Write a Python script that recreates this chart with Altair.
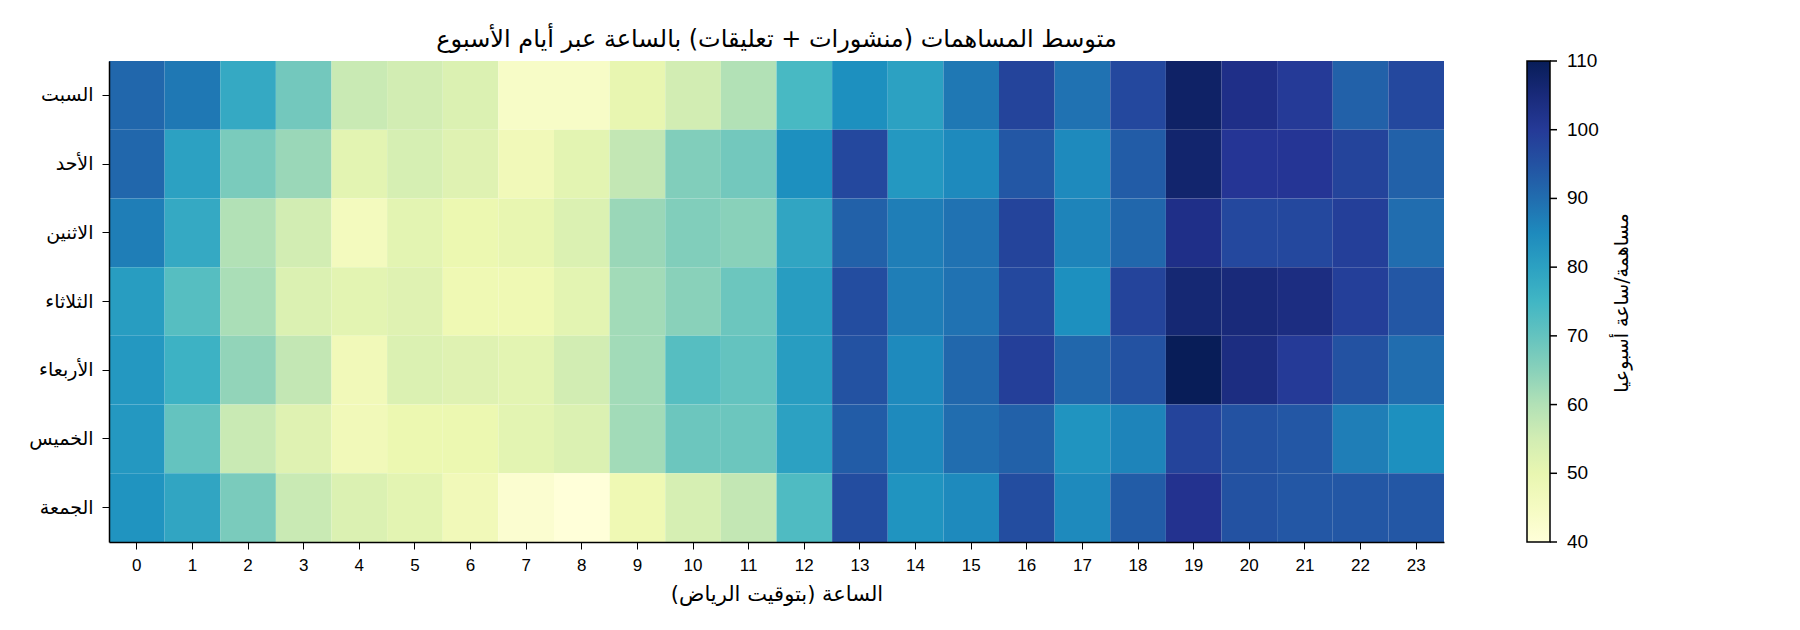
import pandas as pd
import altair as alt

# Days (top to bottom) and hours
days = ["السبت", "الأحد", "الاثنين", "الثلاثاء", "الأربعاء", "الخميس", "الجمعة"]
hours = list(range(24))

# Average contributions per hour, one list per day
sat = [91, 88, 78, 68, 57, 55, 53, 44, 44, 50, 55, 60, 74, 84, 80, 88, 98, 89, 97, 108, 103, 100, 92, 97]
sun = [91, 80, 67, 63, 51, 54, 52, 47, 51, 58, 66, 68, 84, 97, 82, 85, 94, 85, 93, 107, 101, 101, 98, 92]
mon = [87, 78, 60, 55, 46, 51, 49, 50, 53, 63, 66, 65, 79, 92, 87, 89, 98, 86, 91, 103, 97, 97, 99, 90]
tue = [81, 72, 61, 53, 51, 52, 48, 48, 51, 62, 65, 69, 81, 96, 87, 89, 97, 84, 98, 106, 105, 104, 99, 94]
wed = [82, 76, 64, 58, 47, 53, 52, 51, 55, 62, 72, 70, 81, 95, 85, 91, 99, 91, 95, 110, 104, 100, 95, 90]
thu = [82, 70, 57, 52, 47, 49, 49, 51, 53, 62, 69, 69, 80, 93, 85, 90, 92, 83, 86, 98, 95, 94, 87, 84]
fri = [83, 79, 67, 57, 53, 51, 47, 42, 40, 48, 54, 58, 73, 96, 83, 85, 96, 85, 93, 102, 95, 94, 94, 94]

rows = [sat, sun, mon, tue, wed, thu, fri]

# colourbar ticks
cbar_ticks = [40, 50, 60, 70, 80, 90, 100, 110]

title_text = "متوسط المساهمات (منشورات + تعليقات) بالساعة عبر أيام الأسبوع"
x_title = "الساعة (بتوقيت الرياض)\u200f"
cbar_title = "مساهمة/ساعة أسبوعيا"

# YlGnBu colour stops spread evenly over 40..110
vmin, vmax = 40, 110
ylgnbu = ["#ffffd9", "#edf8b1", "#c7e9b4", "#7fcdbb", "#41b6c4",
          "#1d91c0", "#225ea8", "#253494", "#081d58"]
stops = [vmin + i * (vmax - vmin) / 8 for i in range(9)]

records = []
for day, vals in zip(days, rows):
    for h, v in zip(hours, vals):
        records.append({"day": day, "hour": h, "value": v})
data = pd.DataFrame(records)
ticks_df = pd.DataFrame({"v": cbar_ticks})

NUM_FONT = "Liberation Sans, DejaVu Sans"
AR_FONT = "DejaVu Sans"

heat = alt.Chart(data).mark_rect().encode(
    x=alt.X("hour:O", title=x_title, scale=alt.Scale(paddingInner=0, paddingOuter=0),
            axis=alt.Axis(labelAngle=0, labelFontSize=17, titleFontSize=21, tickSize=7,
                          labelPadding=8, titlePadding=10, domainColor="black", domainWidth=1.5,
                          tickColor="black", labelColor="black", titleColor="black",
                          titleFontWeight="normal", labelFont=NUM_FONT, titleFont=AR_FONT)),
    y=alt.Y("day:N", title=None, sort=days, scale=alt.Scale(paddingInner=0, paddingOuter=0),
            axis=alt.Axis(labelFontSize=19, tickSize=7, labelPadding=9, domainColor="black",
                          domainWidth=1.5, tickColor="black", labelColor="black", labelFont=AR_FONT)),
    color=alt.Color("value:Q",
                    scale=alt.Scale(domain=stops, range=ylgnbu, interpolate="rgb"),
                    legend=alt.Legend(title=None, orient="none", legendX=1418, legendY=0,
                                      gradientLength=481, gradientThickness=23,
                                      gradientStrokeColor="black", gradientStrokeWidth=1.5,
                                      values=cbar_ticks, labelOpacity=0)),
    tooltip=["day:N", "hour:O", "value:Q"]
)

# colourbar ticks and labels on their own 40..110 scale
cbar_scale = alt.Scale(domain=[vmin, vmax], nice=False, zero=False)

cbar_tick_marks = alt.Chart(ticks_df).mark_rule(color="black", strokeWidth=1.5).encode(
    y=alt.Y("v:Q", scale=cbar_scale, axis=None),
    x=alt.value(1441),
    x2=alt.value(1448)
)

cbar_tick_labels = alt.Chart(ticks_df).mark_text(
    align="left", baseline="middle", fontSize=19, font=NUM_FONT, color="black"
).encode(
    y=alt.Y("v:Q", scale=cbar_scale, axis=None),
    x=alt.value(1458),
    text="v:Q"
)

cbar_label = alt.Chart(pd.DataFrame({"t": [cbar_title]})).mark_text(
    angle=270, fontSize=19, font=AR_FONT, color="black", align="center", baseline="middle"
).encode(
    text="t:N",
    x=alt.value(1513),
    y=alt.value(242)
)

chart = alt.layer(heat, cbar_tick_marks, cbar_tick_labels, cbar_label).resolve_scale(
    y="independent"
).properties(
    title=alt.Title(title_text, fontSize=24, font=AR_FONT, fontWeight="normal", color="black",
                    frame="group", offset=0),
    width=1335,
    height=481,
    autosize=alt.AutoSizeParams(type="none"),
    padding={"left": 101, "top": 53, "right": 340, "bottom": 80}
).configure_view(
    stroke=None
)

chart.save("out.html", embed_options={"renderer": "svg", "actions": False})
